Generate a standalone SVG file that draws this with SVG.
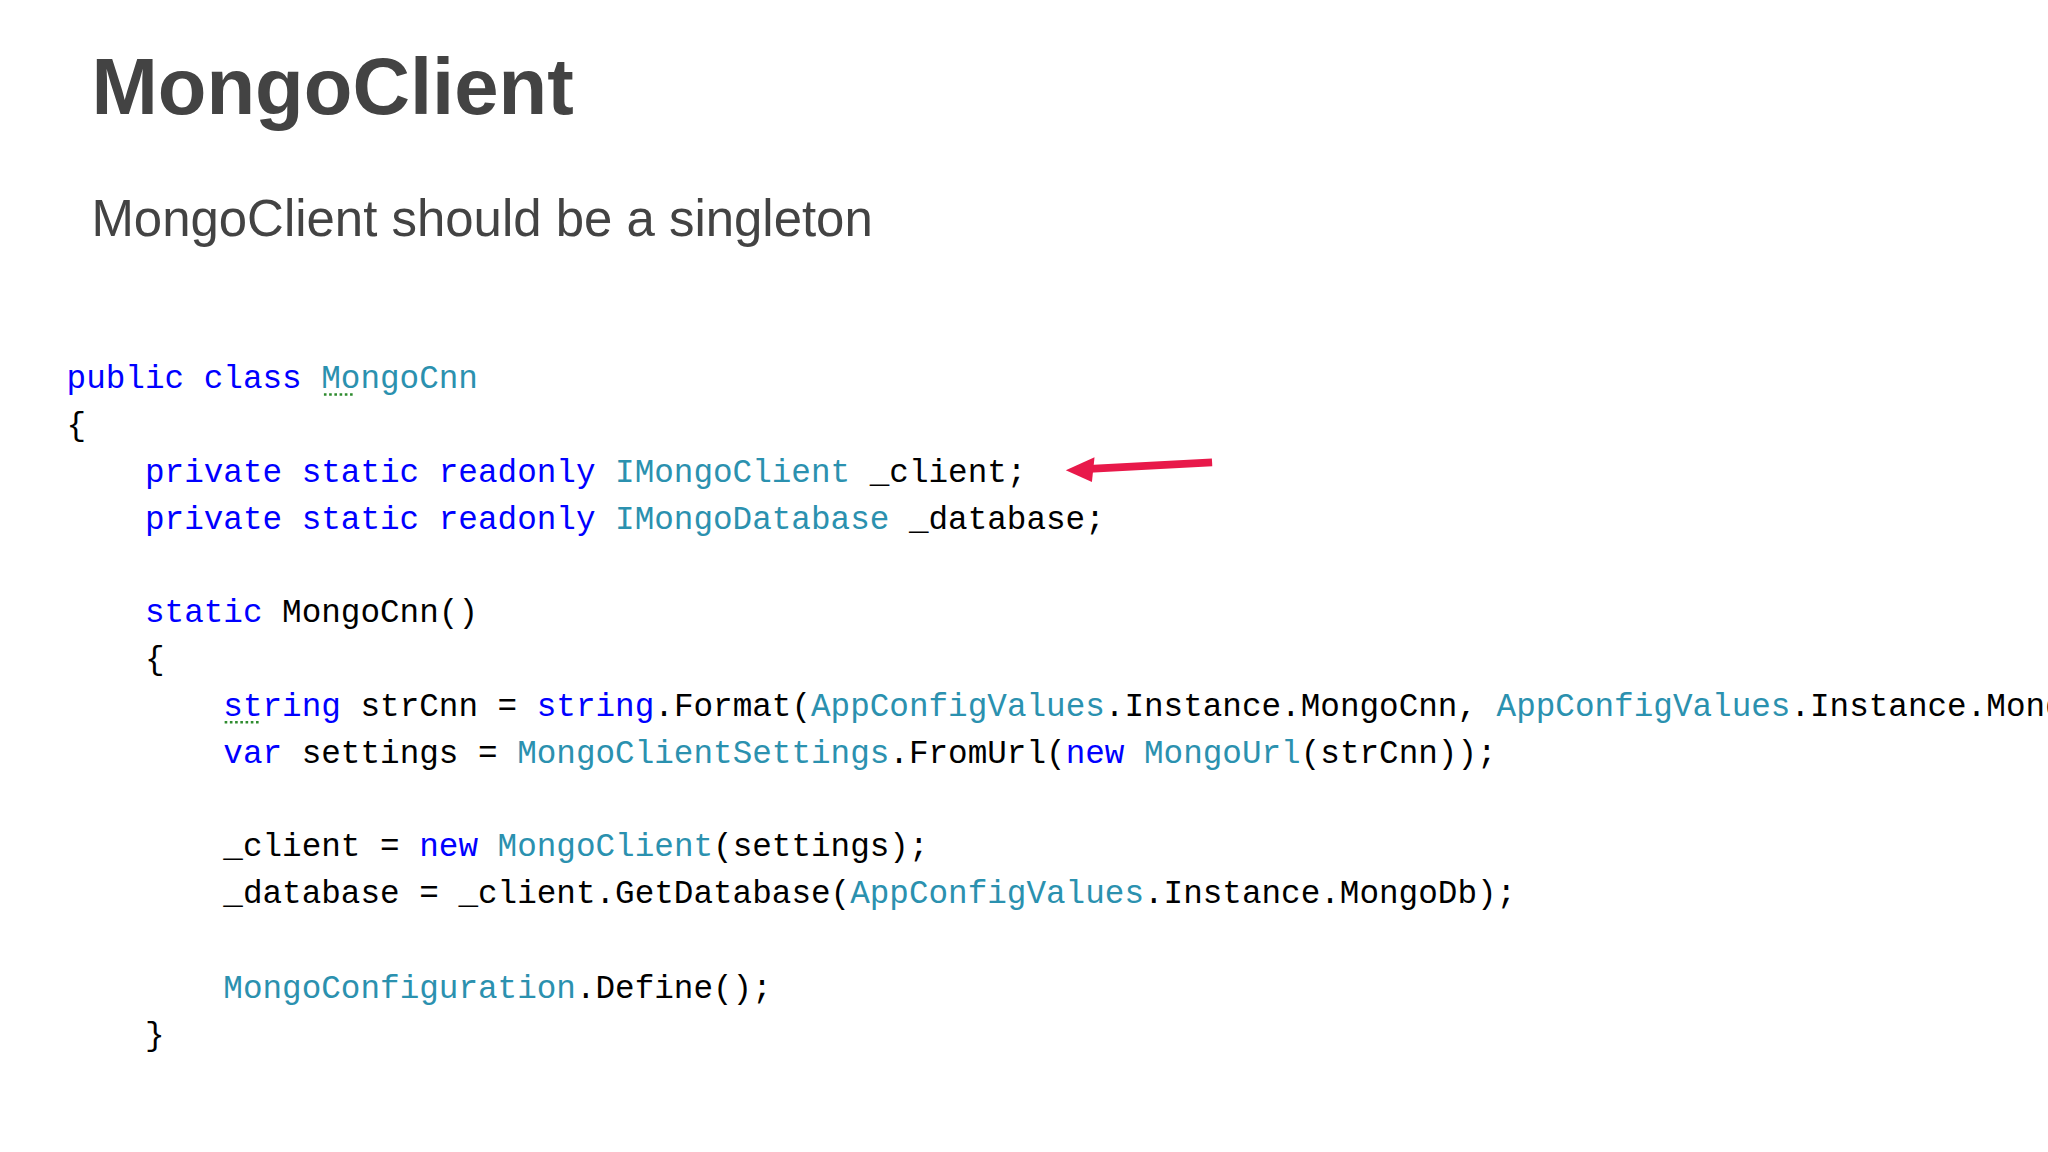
<svg xmlns="http://www.w3.org/2000/svg" width="2048" height="1152" viewBox="0 0 2048 1152">
<style>
.t{font-family:"Liberation Sans",Arial,sans-serif;fill:#434343}
.c{font-family:"Liberation Mono","DejaVu Sans Mono",monospace;font-size:25px;fill:#000}
.k{fill:#0000ff}.y{fill:#2b91af}
.sq{stroke:#2e8b2e;stroke-width:2;stroke-dasharray:2 2}
</style>
<rect width="2048" height="1152" fill="#fff"/>
<g transform="scale(1.30612)">
<g id="title"><text class="t" x="70" y="87" font-size="61" font-weight="bold">MongoClient</text></g>
<g id="subtitle"><text class="t" x="70" y="181" font-size="39">MongoClient should be a singleton</text></g>
<g id="code">
<text class="c" x="51" y="297"><tspan class="k">public class </tspan><tspan class="y">MongoCnn</tspan></text>
<text class="c" x="51" y="333">{</text>
<text class="c" x="111" y="369"><tspan class="k">private static readonly </tspan><tspan class="y">IMongoClient</tspan> _client;</text>
<text class="c" x="111" y="405"><tspan class="k">private static readonly </tspan><tspan class="y">IMongoDatabase</tspan> _database;</text>
<text class="c" x="111" y="476"><tspan class="k">static</tspan> MongoCnn()</text>
<text class="c" x="111" y="512">{</text>
<text class="c" x="171" y="548"><tspan class="k">string</tspan> strCnn = <tspan class="k">string</tspan>.Format(<tspan class="y">AppConfigValues</tspan>.Instance.MongoCnn, <tspan class="y">AppConfigValues</tspan>.Instance.MongoDb);</text>
<text class="c" x="171" y="584"><tspan class="k">var</tspan> settings = <tspan class="y">MongoClientSettings</tspan>.FromUrl(<tspan class="k">new</tspan> <tspan class="y">MongoUrl</tspan>(strCnn));</text>
<text class="c" x="171" y="655">_client = <tspan class="k">new</tspan> <tspan class="y">MongoClient</tspan>(settings);</text>
<text class="c" x="171" y="691">_database = _client.GetDatabase(<tspan class="y">AppConfigValues</tspan>.Instance.MongoDb);</text>
<text class="c" x="171" y="764"><tspan class="y">MongoConfiguration</tspan>.Define();</text>
<text class="c" x="111" y="800">}</text>
<line class="sq" x1="248" y1="302" x2="272" y2="302"/>
<line class="sq" x1="172" y1="553" x2="198" y2="553"/>
</g>
<g id="connectors">
<line x1="928" y1="354" x2="834" y2="359" stroke="#e8194a" stroke-width="6"/>
<polygon points="816,360 838,350 836,369" fill="#e8194a"/>
</g>
</g>
</svg>
